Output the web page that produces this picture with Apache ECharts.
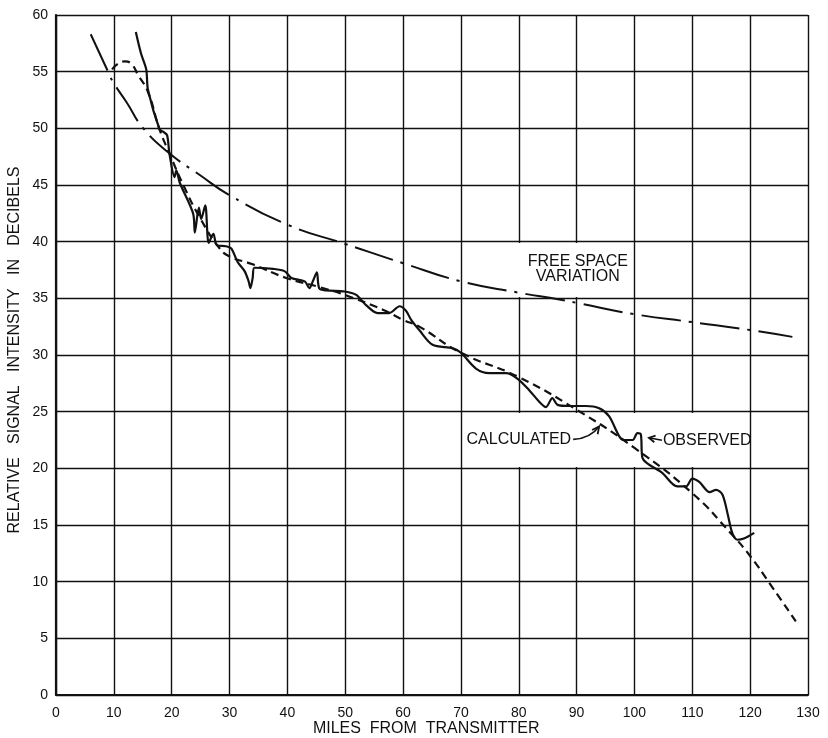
<!DOCTYPE html>
<html>
<head>
<meta charset="utf-8">
<script src="https://cdn.jsdelivr.net/npm/echarts@6/dist/echarts.min.js"></script>
<style>
html,body{margin:0;padding:0;background:#fff;}
#c{width:828px;height:738px;}
</style>
</head>
<body>
<div id="c"></div>
<script>
// ---- data ----
const xTicks = [0,10,20,30,40,50,60,70,80,90,100,110,120,130];
const yTicks = [0,5,10,15,20,25,30,35,40,45,50,55,60];

const freeX = [6.0, 9.0, 9.85, 12.2, 15.1, 19.6, 24.8, 30, 40, 50, 60, 70, 80, 87, 90, 100, 110, 120, 127.3];
const freeY = [58.3, 55.0, 54.1, 52.3, 50.0, 47.8, 45.9, 44.1, 41.5, 39.8, 38.1, 36.5, 35.5, 34.9, 34.6, 33.6, 32.9, 32.2, 31.6];

const calcX = [9.7, 11.0, 11.9, 13.0, 14.2, 15.9, 17.9, 19.6, 22.0, 25.0, 28.3, 30.0, 34.0, 39.8, 45.5, 49.9, 56.5, 60.0, 62.8, 70.0, 79.8, 89.9, 100.0, 110.0, 116.6, 120.1, 123.3, 127.9];
const calcY = [55.2, 55.8, 55.9, 55.7, 54.7, 53.2, 49.9, 47.8, 45.0, 42.0, 39.4, 38.7, 38.0, 36.8, 36.0, 35.3, 34.0, 33.1, 32.5, 30.2, 28.1, 25.2, 21.8, 17.8, 14.3, 12.2, 9.9, 6.5];

const obsX = [13.8, 14.7, 15.6, 15.9, 17.9, 18.5, 19.2, 19.6, 20.5, 20.8, 21.4, 23.7, 24.0, 24.7, 25.1, 25.8, 26.4, 27.2, 27.8, 29.4, 30.3, 31.4, 32.6, 33.3, 33.6, 34.0, 34.3, 37.5, 39.5, 40.7, 43.0, 43.8, 44.4, 45.1, 45.5, 46.7, 49.9, 51.9, 53.6, 55.6, 57.6, 59.4, 60.5, 61.4, 62.8, 65.1, 68.6, 70.0, 72.6, 74.9, 77.8, 79.8, 81.8, 83.5, 84.7, 85.8, 86.7, 88.7, 91.6, 93.9, 95.6, 97.4, 98.2, 99.7, 100.5, 101.1, 101.4, 104.8, 107.4, 108.9, 110.0, 111.2, 113.0, 114.1, 115.2, 116.1, 116.9, 117.8, 118.9, 120.7];
const obsY = [58.5, 56.6, 55.2, 53.4, 49.9, 49.7, 49.4, 47.8, 45.7, 46.3, 45.2, 42.5, 40.8, 43.0, 42.0, 43.2, 39.9, 40.7, 39.7, 39.6, 39.4, 38.2, 37.4, 36.5, 35.9, 36.8, 37.7, 37.6, 37.4, 36.8, 36.5, 35.9, 36.5, 37.3, 35.9, 35.7, 35.6, 35.3, 34.4, 33.7, 33.7, 34.3, 33.9, 33.1, 32.2, 30.9, 30.6, 30.2, 28.8, 28.4, 28.4, 27.9, 26.9, 25.9, 25.4, 26.2, 25.6, 25.5, 25.5, 25.3, 24.6, 22.8, 22.5, 22.5, 23.1, 23.0, 20.9, 19.6, 18.4, 18.4, 19.1, 18.8, 17.9, 18.1, 17.7, 16.0, 14.3, 13.7, 13.8, 14.3];

const labels = {
  free1: 'FREE SPACE', free2: 'VARIATION',
  calc: 'CALCULATED', obs: 'OBSERVED',
  xName: 'MILES  FROM  TRANSMITTER',
  yName: 'RELATIVE   SIGNAL   INTENSITY   IN   DECIBELS'
};
// blank label panels (where the grid is interrupted behind the annotations)
const panelX0 = [72, 71], panelX1 = [98, 119];
const panelY0 = [35.12, 20.12], panelY1 = [39.88, 24.88];

const zip = (a, b) => a.map((v, i) => [v, b[i]]);
const FONT = '"Liberation Sans", Arial, sans-serif';
const INK = '#111';

const chart = echarts.init(document.getElementById('c'), null, {renderer: 'canvas'});
const option = {
  animation: false,
  backgroundColor: '#fff',
  grid: {left: 56, top: 15, right: 20, bottom: 43, containLabel: false},
  xAxis: {
    type: 'value', min: 0, max: 130, interval: 10,
    axisLine: {show: true, onZero: false, lineStyle: {color: INK, width: 2.2}},
    axisTick: {show: false},
    axisLabel: {color: INK, fontSize: 14, fontFamily: FONT, margin: 11,
      formatter: v => xTicks.includes(v) ? String(v) : ''},
    splitLine: {show: true, lineStyle: {color: INK, width: 1.4}}
  },
  yAxis: {
    type: 'value', min: 0, max: 60, interval: 5,
    axisLine: {show: true, onZero: false, lineStyle: {color: INK, width: 2.2}},
    axisTick: {show: false},
    axisLabel: {color: INK, fontSize: 14, fontFamily: FONT, margin: 8,
      formatter: v => yTicks.includes(v) ? String(v) : ''},
    splitLine: {show: true, lineStyle: {color: INK, width: 1.4}}
  },
  series: [
    {
      name: 'Free space variation', type: 'line', data: zip(freeX, freeY),
      showSymbol: false, smooth: 0.5, z: 3,
      lineStyle: {color: INK, width: 2, type: [40, 8, 3, 8]},
      markArea: {
        silent: true, z: 2,
        itemStyle: {color: '#ffffff', opacity: 1, borderWidth: 0},
        label: {show: false},
        data: panelX0.map((x0, i) => [{coord: [x0, panelY0[i]]}, {coord: [panelX1[i], panelY1[i]]}])
      }
    },
    {
      name: 'Calculated', type: 'line', data: zip(calcX, calcY),
      showSymbol: false, smooth: 0.5, z: 4,
      lineStyle: {color: INK, width: 2.2, type: [8, 5]}
    },
    {
      name: 'Observed', type: 'line', data: zip(obsX, obsY),
      showSymbol: false, smooth: 0.3, z: 5,
      lineStyle: {color: INK, width: 2.2}
    }
  ]
};
chart.setOption(option);

const P = (x, y) => chart.convertToPixel({gridIndex: 0}, [x, y]);
function arrowHead(tip, from, len, ang) {
  const dx = tip[0] - from[0], dy = tip[1] - from[1];
  const a = Math.atan2(dy, dx);
  const p1 = [tip[0] - len * Math.cos(a - ang), tip[1] - len * Math.sin(a - ang)];
  const p2 = [tip[0] - len * Math.cos(a + ang), tip[1] - len * Math.sin(a + ang)];
  return {type: 'polyline', shape: {points: [p1, tip, p2]}, style: {stroke: INK, lineWidth: 1.8, fill: null}, z: 10};
}
const txt = (x, y, s, align, rot) => ({
  type: 'text', x: x, y: y, rotation: rot || 0, z: 10,
  style: {text: s, fill: INK, font: '16px ' + FONT, align: align || 'center', verticalAlign: 'middle'}
});

const fs = P(90.2, 38.2), va = P(90.2, 36.9);
const calcTip = P(93.9, 23.7);
const calcTail = [calcTip[0] - 26, calcTip[1] + 13];
const calcCtrl = [calcTip[0] - 9, calcTip[1] + 12];
const obsTip = P(102.5, 22.7);
const obsTail = [obsTip[0] + 13, obsTip[1] + 2.5];
const xMid = P(64, 0), yMid = P(0, 30);

chart.setOption({
  graphic: [
    txt(fs[0], fs[1], labels.free1),
    txt(va[0], va[1], labels.free2),
    txt(calcTail[0] - 2, calcTail[1], labels.calc, 'right'),
    {type: 'bezierCurve', shape: {x1: calcTail[0], y1: calcTail[1], x2: calcTip[0], y2: calcTip[1], cpx1: calcCtrl[0], cpy1: calcCtrl[1]},
     style: {stroke: INK, lineWidth: 1.6, fill: null}, z: 10},
    arrowHead(calcTip, calcCtrl, 8, 0.45),
    txt(obsTail[0] + 1, obsTail[1], labels.obs, 'left'),
    {type: 'line', shape: {x1: obsTail[0], y1: obsTail[1], x2: obsTip[0], y2: obsTip[1]}, style: {stroke: INK, lineWidth: 1.6}, z: 10},
    arrowHead(obsTip, obsTail, 7, 0.5),
    txt(xMid[0], 729, labels.xName),
    txt(15, yMid[1] - 5, labels.yName, 'center', Math.PI / 2)
  ]
});
</script>
</body>
</html>
